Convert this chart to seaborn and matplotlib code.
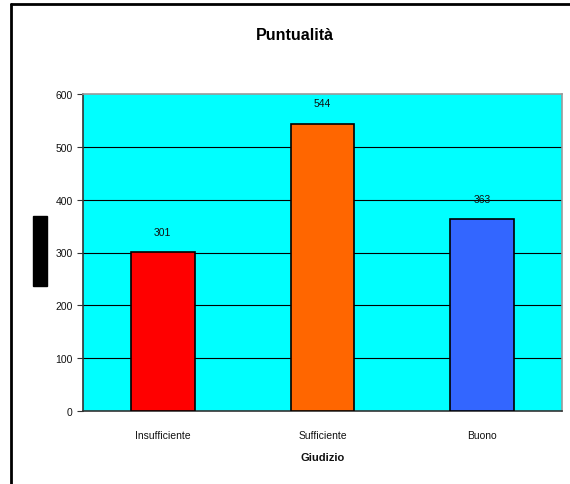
import matplotlib
matplotlib.use("Agg")
import matplotlib.pyplot as plt
import seaborn as sns
import pandas as pd
from matplotlib.lines import Line2D
from matplotlib.patches import Rectangle

categories = ["Insufficiente", "Sufficiente", "Buono"]
values = [301, 544, 363]
colors = ["#FF0000", "#FF6600", "#3366FF"]
yticks = [0, 100, 200, 300, 400, 500, 600]

sns.set_style("white")
plt.rcParams['font.family'] = ['Liberation Sans', 'DejaVu Sans']

fig = plt.figure(figsize=(5.7, 4.85), dpi=100)
ax = fig.add_axes([83/570, 1-412/485, (562-83)/570, (412-95)/485])
ax.set_facecolor("#00FFFF")

df = pd.DataFrame({"Giudizio": categories, "Valore": values})
sns.barplot(data=df, x="Giudizio", y="Valore", hue="Giudizio", palette=colors,
            saturation=1, width=0.4, edgecolor="black", linewidth=1.2,
            legend=False, ax=ax, zorder=3)

ax.set_ylim(0, 600)
ax.set_xlim(-0.5, 2.5)
ax.set_yticks(yticks)
ax.set_yticklabels([str(v) for v in yticks], fontsize=7.5, color="#111111")
for v in yticks[1:-1]:
    ax.axhline(v, color="black", linewidth=0.8, zorder=1)

ax.set_xticks(range(len(categories)))
ax.set_xticklabels(categories, fontsize=7.5, color="#111111")
ax.tick_params(axis="x", which="major", length=0, pad=14)
ax.set_xticks([-0.5, 0.5, 1.5, 2.5], minor=True)
ax.tick_params(axis="x", which="minor", length=4, direction="out", color="#333333")
ax.tick_params(axis="y", length=4, direction="out", color="#333333", left=True)

for s in ["top", "right"]:
    ax.spines[s].set_color("#999999")
    ax.spines[s].set_linewidth(1.2)
for s in ["left", "bottom"]:
    ax.spines[s].set_color("#333333")
    ax.spines[s].set_linewidth(1.2)

for i, v in enumerate(values):
    ax.annotate(str(v), (i, v), xytext=(0, 11), textcoords="offset points",
                ha="center", va="bottom", fontsize=7.5, color="#111111")

ax.set_ylabel("")
ax.set_xlabel("Giudizio", fontsize=8, fontweight="bold", labelpad=8, color="#111111")

fig.text(295/570, 1-35/485, "Puntualità", ha="center", va="center",
         fontsize=11.5, fontweight="bold", color="black")

# black label block on the left
fig.patches.append(Rectangle((33/570, 1-287/485), 14/570, 70/485,
                             transform=fig.transFigure, color="black"))
# figure border (left and top)
fig.lines.append(Line2D([11/570, 11/570], [0, 1-5/485], transform=fig.transFigure,
                        color="black", linewidth=2))
fig.lines.append(Line2D([11/570, 1], [1-5/485, 1-5/485], transform=fig.transFigure,
                        color="black", linewidth=2))

fig.savefig("out.png", dpi=100, facecolor="white")
